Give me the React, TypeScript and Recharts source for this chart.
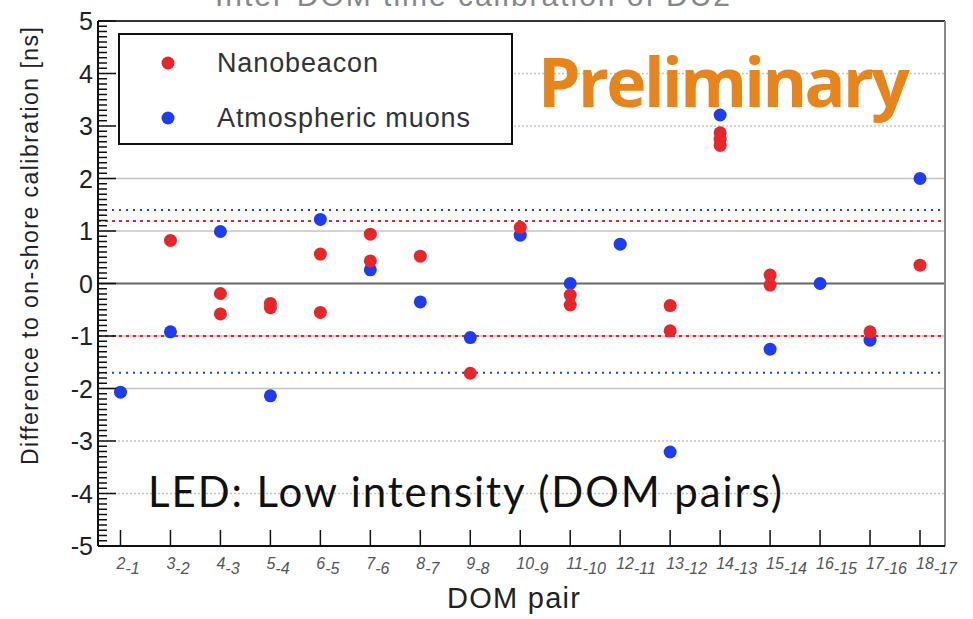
import { ScatterChart, Scatter, XAxis, YAxis, ReferenceLine } from 'recharts';

const PAIRS = ['2-1', '3-2', '4-3', '5-4', '6-5', '7-6', '8-7', '9-8', '10-9', '11-10', '12-11', '13-12', '14-13', '15-14', '16-15', '17-16', '18-17'];

// Nanobeacon: several measurements for some pairs
const NANOBEACON_PAIRS = ['3-2', '4-3', '4-3', '5-4', '5-4', '6-5', '6-5', '7-6', '7-6', '8-7', '9-8', '10-9', '11-10', '11-10', '13-12', '13-12', '14-13', '14-13', '14-13', '15-14', '15-14', '17-16', '18-17'];
const NANOBEACON_VALUES = [0.82, -0.19, -0.58, -0.38, -0.46, 0.56, -0.55, 0.94, 0.43, 0.52, -1.71, 1.07, -0.22, -0.41, -0.42, -0.9, 2.87, 2.75, 2.63, 0.16, -0.03, -0.92, 0.35];

// Atmospheric muons: one value per pair, in PAIRS order
const MUON_VALUES = [-2.07, -0.92, 0.99, -2.14, 1.22, 0.26, -0.35, -1.03, 0.92, 0.0, 0.75, -3.21, 3.21, -1.25, 0.0, -1.08, 2.0];

const NANOBEACON_BAND = [1.19, -1.0];
const MUON_BAND = [1.4, -1.7];
const GRID_VALUES = [-4, -3, -2, -1, 1, 2, 3, 4];
const Y_MINOR_TICKS = Array.from({ length: 101 }, (_, i) => Math.round((-5 + i * 0.1) * 10) / 10);

const RED = '#e8262a';
const BLUE = '#1f3cf5';
const SANS = '"Liberation Sans", Arial, sans-serif';

const nanobeaconData = NANOBEACON_PAIRS.map((p, i) => ({ x: PAIRS.indexOf(p), y: NANOBEACON_VALUES[i] }));
const muonData = PAIRS.map((_p, i) => ({ x: i, y: MUON_VALUES[i] }));

function YTick({ x, y, payload }: any) {
  const v = payload.value;
  const major = Math.abs(v - Math.round(v)) < 1e-6;
  return (
    <g>
      <line x1={x} x2={x + (major ? 18 : 9)} y1={y} y2={y} stroke="#111" strokeWidth={1.5} />
      {major && (
        <text x={x - 5} y={y} textAnchor="end" dominantBaseline="central" fontSize={25} fontFamily={SANS} fill="#222">
          {Math.round(v)}
        </text>
      )}
    </g>
  );
}

function XTick({ x, y, payload }: any) {
  const [a, b] = PAIRS[payload.value].split('-');
  return (
    <g>
      <line x1={x} x2={x} y1={y} y2={y - 16} stroke="#111" strokeWidth={1.5} />
      <text x={x - 4} y={y + 23} fontSize={16} fontStyle="italic" fontFamily={SANS} fill="#555">
        {a}
        <tspan dy={5}>-{b}</tspan>
      </text>
    </g>
  );
}

const dot = (color: string) => (props: any) => <circle cx={props.cx} cy={props.cy} r={6.5} fill={color} />;

export default function App() {
  return (
    <div style={{ position: 'absolute', left: 0, top: 0, width: 973, height: 619, background: '#fff' }}>
      <ScatterChart width={973} height={619} margin={{ top: 21, right: 28, bottom: 33, left: 38 }}>
        <XAxis
          type="number"
          dataKey="x"
          domain={[-0.45, 16.5]}
          ticks={PAIRS.map((_p, i) => i)}
          interval={0}
          height={40}
          tickSize={0}
          tickMargin={0}
          tickLine={false}
          tick={<XTick />}
          axisLine={{ stroke: '#111', strokeWidth: 2 }}
        />
        <YAxis
          type="number"
          dataKey="y"
          domain={[-5, 5]}
          ticks={Y_MINOR_TICKS}
          interval={0}
          width={60}
          tickSize={0}
          tickMargin={0}
          tickLine={false}
          tick={<YTick />}
          axisLine={{ stroke: '#111', strokeWidth: 2 }}
        />
        {GRID_VALUES.map((v) => (
          <ReferenceLine
            key={v}
            y={v}
            stroke="#c4c4c4"
            strokeWidth={1.5}
            strokeDasharray={Math.abs(v) >= 3 ? '2 2' : undefined}
          />
        ))}
        <ReferenceLine y={0} stroke="#666" strokeWidth={2} />
        <ReferenceLine y={5} stroke="#333" strokeWidth={2} />
        <ReferenceLine x={16.5} stroke="#888" strokeWidth={2} />
        {MUON_BAND.map((v) => (
          <ReferenceLine key={`m${v}`} y={v} stroke={BLUE} strokeWidth={2} strokeDasharray="2 5" />
        ))}
        {NANOBEACON_BAND.map((v) => (
          <ReferenceLine key={`n${v}`} y={v} stroke={RED} strokeWidth={2} strokeDasharray="3 4" />
        ))}
        <Scatter data={muonData} shape={dot(BLUE)} isAnimationActive={false} />
        <Scatter data={nanobeaconData} shape={dot(RED)} isAnimationActive={false} />
      </ScatterChart>

      {/* annotations on top of the chart */}
      <svg width={973} height={619} style={{ position: 'absolute', left: 0, top: 0, pointerEvents: 'none' }}>
        <text x={215} y={6} fontSize={30} fontFamily={SANS} fill="#888" textLength={515}>
          Inter-DOM time calibration of DU2
        </text>
        <rect x={119} y={34} width={393} height={110} fill="#fff" stroke="#111" strokeWidth={2} />
        <circle cx={168} cy={63} r={6.5} fill={RED} />
        <text x={217} y={63} dominantBaseline="central" fontSize={27} fontFamily={SANS} fill="#333" textLength={161}>
          Nanobeacon
        </text>
        <circle cx={168} cy={118} r={6.5} fill={BLUE} />
        <text x={217} y={118} dominantBaseline="central" fontSize={27} fontFamily={SANS} fill="#333" textLength={253}>
          Atmospheric muons
        </text>
        <text x={538} y={107} fontSize={68} fontWeight="bold" fontFamily='"Open Sans", sans-serif' fill="#e8841c" textLength={372}>
          Preliminary
        </text>
        <text x={148} y={507} fontSize={42} fontFamily="Lato, sans-serif" fill="#111" textLength={634}>
          LED: Low intensity (DOM pairs)
        </text>
        <text
          transform="translate(38 246) rotate(-90)"
          textAnchor="middle"
          fontSize={23}
          fontFamily={SANS}
          fill="#222"
          textLength={438}
        >
          Difference to on-shore calibration [ns]
        </text>
        <text x={447} y={608} fontSize={29} fontFamily={SANS} fill="#222" textLength={133}>
          DOM pair
        </text>
      </svg>
    </div>
  );
}
